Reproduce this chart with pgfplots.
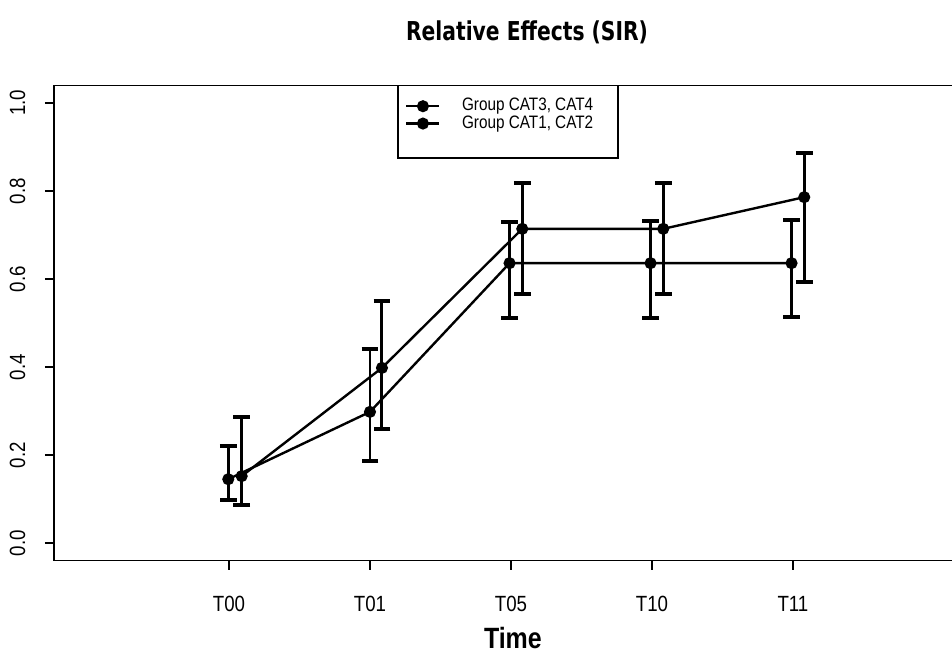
\documentclass[border=0pt]{standalone}
\usepackage{fontspec}
\setmainfont{Liberation Sans}[FakeStretch=0.85]
\newfontfamily\titlefont{DejaVu Sans}[FakeStretch=0.78]
\usepackage{pgfplots}
\pgfplotsset{compat=1.18}
\usepackage{pgfplotstable}
% Group CAT3, CAT4
\pgfplotstableread{
x y ep em
0.995 0.145 0.075 0.047
2.000 0.298 0.143 0.112
2.990 0.636 0.094 0.125
3.990 0.636 0.096 0.125
4.990 0.636 0.098 0.122
}\grpA
% Group CAT1, CAT2
\pgfplotstableread{
x y ep em
1.090 0.152 0.134 0.066
2.085 0.398 0.152 0.139
3.080 0.714 0.104 0.148
4.080 0.714 0.104 0.148
5.080 0.786 0.100 0.193
}\grpB
\begin{document}
\begin{tikzpicture}[x=1pt,y=1pt]
\begin{axis}[
  at={(40.5pt,70.05pt)}, anchor=south west,
  scale only axis, width=673.5pt, height=356.4pt,
  xmin=-0.241, xmax=6.128, ymin=-0.04, ymax=1.04,
  separate axis lines,
  axis x line*=box, axis y line*=left,
  axis line style={line width=1.2pt, black},
  xtick={1,2,3,4,5}, xticklabels={T00,T01,T05,T10,T11},
  ytick={0,0.2,0.4,0.6,0.8,1},
  xtick pos=bottom, ytick pos=left,
  tick align=outside, major tick length=6.75pt,
  tick style={line width=1.2pt, black},
  /pgf/number format/assume math mode=true,
  tick label style={font=\fontsize{16.5}{19}\selectfont, inner sep=0pt},
  yticklabel style={rotate=90, anchor=south, /pgf/number format/fixed, /pgf/number format/fixed zerofill, /pgf/number format/precision=1},
  xticklabel style={anchor=north},
  xticklabel shift=19.5pt, yticklabel shift=14.5pt,
  xlabel={Time},
  xlabel style={at={(axis description cs:0.511,-0.163)}, anchor=center, font=\bfseries\fontsize{22}{26}\selectfont},
  legend cell align=left,
  legend style={draw=none, fill=none, at={(axis cs:2.248,1.013)}, anchor=north west,
    inner sep=0pt, font=\fontsize{13.5}{15}\selectfont, row sep=0pt,
    nodes={inner sep=0pt, text height=10pt, text depth=3pt},
    /tikz/every odd column/.append style={column sep=16pt}},
  legend image code/.code={\draw[mark repeat=2,mark phase=2,#1] plot coordinates {(0pt,0pt) (12.4pt,0pt) (24.8pt,0pt)};},
]
\addplot[black, line width=1.8pt, mark=*, mark size=3.6pt, mark options={solid},
  error bars/.cd, y dir=both, y explicit, error mark=|,
  error bar style={line width=2.2pt, black},
  error mark options={line width=3pt, mark size=6.3pt, black}]
  table[x=x, y=y, y error plus=ep, y error minus=em] {\grpA};
\addlegendentry{Group CAT3, CAT4}
\addplot[black, line width=1.8pt, mark=*, mark size=3.6pt, mark options={solid},
  error bars/.cd, y dir=both, y explicit, error mark=|,
  error bar style={line width=2.2pt, black},
  error mark options={line width=3pt, mark size=6.3pt, black}]
  table[x=x, y=y, y error plus=ep, y error minus=em] {\grpB};
\addlegendentry{Group CAT1, CAT2}
\draw[line width=1pt] (axis cs:2.199,1.04) rectangle (axis cs:3.759,0.875);
\end{axis}
\node[font=\titlefont\bfseries\fontsize{19.5}{23}\selectfont] at (395.25pt,466.5pt) {Relative Effects (SIR)};
\pgfresetboundingbox
\path[use as bounding box] (0pt,0pt) rectangle (714pt,490.5pt);
\end{tikzpicture}
\end{document}
